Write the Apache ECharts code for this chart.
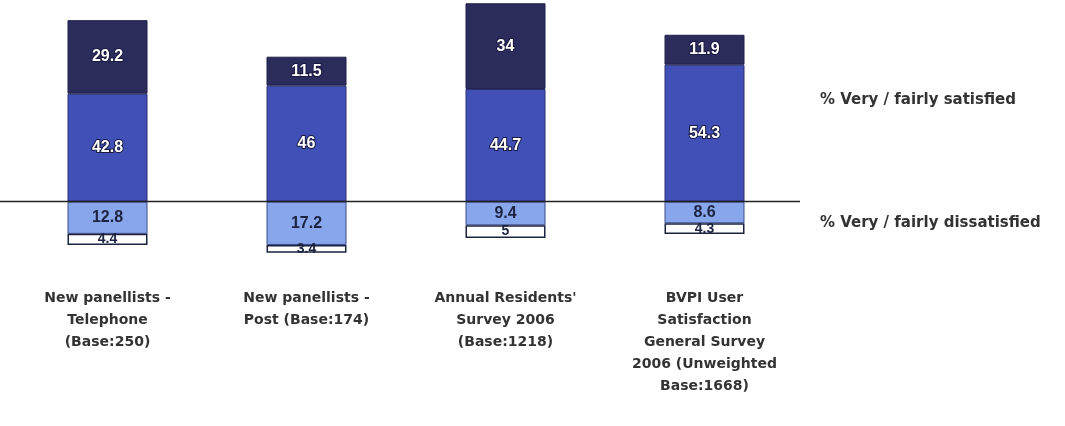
<!DOCTYPE html>
<html><head><meta charset="utf-8">
<script src="https://cdn.jsdelivr.net/npm/echarts@6/dist/echarts.min.js"></script>
<style>html,body{margin:0;padding:0;background:#fff}#c{width:1065px;height:426px}</style>
</head><body><div id="c"></div>
<script>
const categories = [
  "New panellists -\nTelephone\n(Base:250)",
  "New panellists -\nPost (Base:174)",
  "Annual Residents'\nSurvey 2006\n(Base:1218)",
  "BVPI User\nSatisfaction\nGeneral Survey\n2006 (Unweighted\nBase:1668)"
];
const fairlySatisfied = [42.8, 46, 44.7, 54.3];
const verySatisfied = [29.2, 11.5, 34, 11.9];
const fairlyDissatisfied = [12.8, 17.2, 9.4, 8.6];
const veryDissatisfied = [4.4, 3.4, 5, 4.3];
const sideLabels = ["% Very / fairly satisfied", "% Very / fairly dissatisfied"];

const chart = echarts.init(document.getElementById('c'));
const font = '"Liberation Sans", Arial, sans-serif';
const wideFont = '"DejaVu Sans", "Liberation Sans", sans-serif';
const lblWhite = {show:true, position:'inside', color:'#fff', fontWeight:'bold', fontSize:16, fontFamily:font,
  textBorderColor:'#1a1a40', textBorderWidth:2};
const lblDark = {show:true, position:'inside', color:'#1c2340', fontWeight:'bold', fontSize:16, fontFamily:font};
const bw = 80;
chart.setOption({
  animation:false,
  grid:{left:8, width:796, top:-8, height:260},
  xAxis:{type:'category', data:categories, axisLine:{show:false}, axisTick:{show:false},
    axisLabel:{interval:0, margin:35, color:'#333', fontWeight:'bold', fontSize:14, fontFamily:wideFont, lineHeight:22}},
  yAxis:{type:'value', min:-20, max:80, show:false, splitLine:{show:false}},
  series:[
    {name:'fs', type:'bar', stack:'pos', data:fairlySatisfied, barWidth:bw,
      itemStyle:{color:'#4050b6', borderColor:'#2a2f70', borderWidth:1}, label:lblWhite},
    {name:'vs', type:'bar', stack:'pos', data:verySatisfied, barWidth:bw,
      itemStyle:{color:'#2b2b5c', borderColor:'#20204a', borderWidth:1}, label:lblWhite},
    {name:'fd', type:'bar', stack:'neg', data:fairlyDissatisfied.map(v=>-v), barWidth:bw, barGap:'-100%',
      itemStyle:{color:'#88a6ec', borderColor:'#3a4a8a', borderWidth:1},
      label:Object.assign({}, lblDark, {formatter:p=>String(-p.value)})},
    {name:'vd', type:'bar', stack:'neg', data:veryDissatisfied.map(v=>-v), barWidth:bw,
      itemStyle:{color:'#ffffff', borderColor:'#1c2340', borderWidth:1.5},
      label:Object.assign({}, lblDark, {fontSize:14, formatter:p=>String(-p.value)})}
  ]
});
const y0 = chart.convertToPixel({yAxisIndex:0}, 0);
chart.setOption({graphic:[
  {type:'line', shape:{x1:0, y1:y0, x2:800, y2:y0}, style:{stroke:'#222', lineWidth:1.5}, z:100},
  {type:'text', left:820, top:93, style:{text:sideLabels[0], fill:'#333', font:'bold 15px '+wideFont}},
  {type:'text', left:820, top:216, style:{text:sideLabels[1], fill:'#333', font:'bold 15px '+wideFont}}
]});
</script></body></html>
